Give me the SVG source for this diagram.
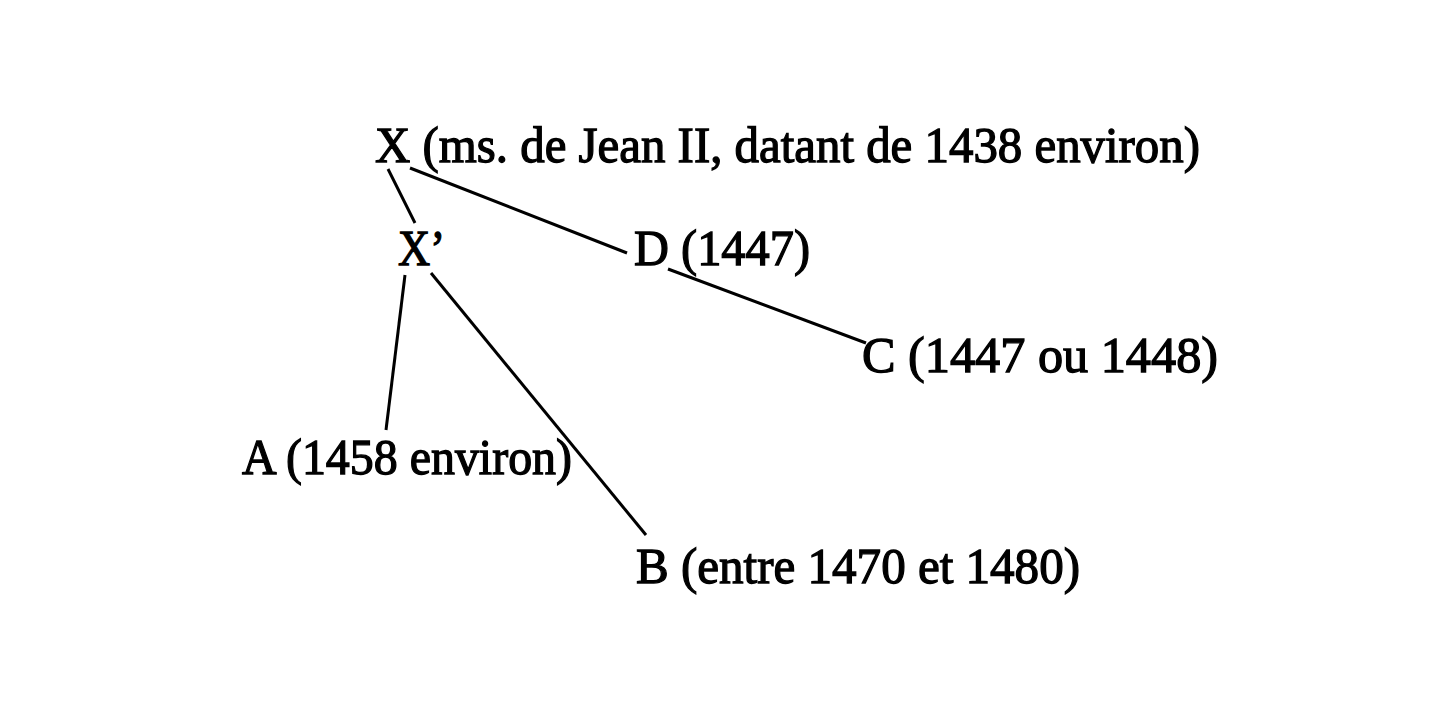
<svg xmlns="http://www.w3.org/2000/svg" width="1456" height="708" viewBox="0 0 1456 708">
<style>
text{font-family:"Liberation Serif","Times New Roman",serif;font-size:51px;fill:#000;stroke:#000;stroke-width:1.3}
.c line{stroke:#000;stroke-width:3;stroke-linecap:butt}
</style>
<rect width="1456" height="708" fill="#fff"/>
<g class="c" id="connectors">
<line x1="388" y1="169" x2="415" y2="223"/>
<line x1="410" y1="168" x2="627" y2="253"/>
<line x1="668" y1="269" x2="866" y2="343"/>
<line x1="405" y1="275" x2="386" y2="430"/>
<line x1="431" y1="273" x2="646" y2="535"/>
</g>
<g id="X"><text x="375" y="162" textLength="825" lengthAdjust="spacingAndGlyphs">X (ms. de Jean II, datant de 1438 environ)</text></g>
<g id="Xp"><text x="398" y="265" textLength="47" lengthAdjust="spacingAndGlyphs">X’</text></g>
<g id="D"><text x="634" y="265" textLength="176" lengthAdjust="spacingAndGlyphs">D (1447)</text></g>
<g id="C"><text x="862" y="372" textLength="356" lengthAdjust="spacingAndGlyphs">C (1447 ou 1448)</text></g>
<g id="A"><text x="242" y="474" textLength="330" lengthAdjust="spacingAndGlyphs">A (1458 environ)</text></g>
<g id="B"><text x="636" y="583" textLength="444" lengthAdjust="spacingAndGlyphs">B (entre 1470 et 1480)</text></g>
</svg>
